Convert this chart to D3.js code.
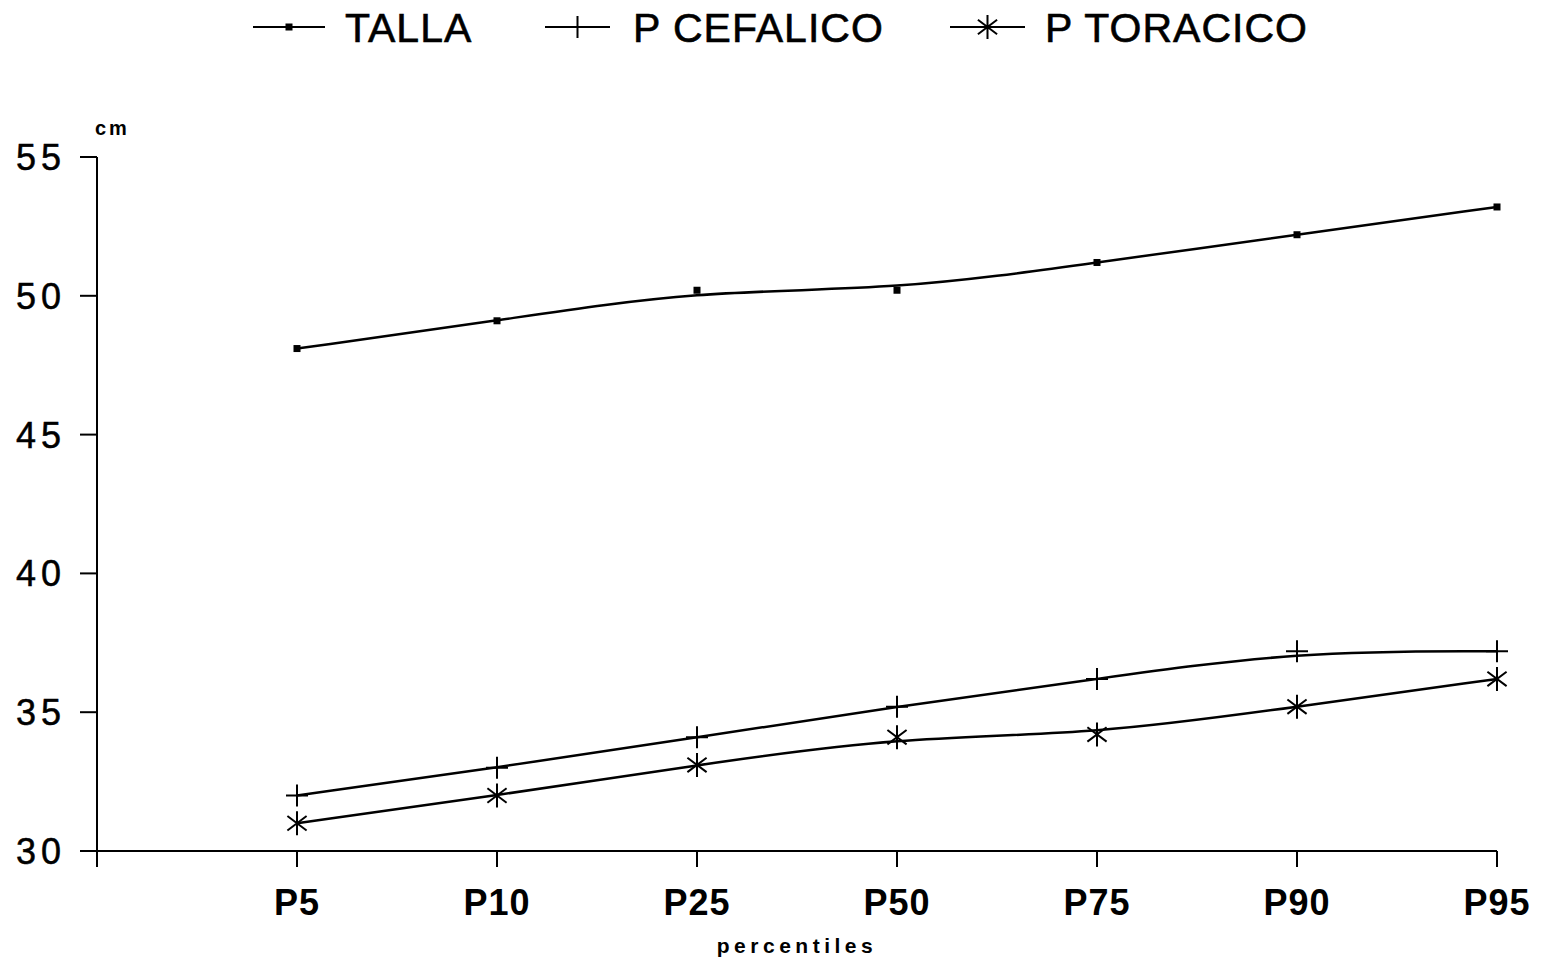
<!DOCTYPE html>
<html>
<head>
<meta charset="utf-8">
<script src="https://cdn.jsdelivr.net/npm/d3@7"></script>
<style>
  body { margin: 0; background: #fff; }
  svg { display: block; font-family: "Liberation Sans", Arial, sans-serif; }
  .tick-y { font-size: 36px; letter-spacing: 5px; stroke: #000; stroke-width: 0.5px; }
  .tick-x { font-size: 36px; font-weight: bold; letter-spacing: 1px; }
  .legend-label { font-size: 41px; letter-spacing: 1px; stroke: #000; stroke-width: 0.6px; }
</style>
</head>
<body>
<script>
// categories (first slot left empty, like the original)
const percentiles = ['', 'P5', 'P10', 'P25', 'P50', 'P75', 'P90', 'P95'];
const talla = [48.1, 49.1, 50.2, 50.2, 51.2, 52.2, 53.2];
const cefalico = [32.0, 33.0, 34.1, 35.2, 36.2, 37.2, 37.2];
const toracico = [31.0, 32.0, 33.1, 34.1, 34.2, 35.2, 36.2];
const yTicks = [30, 35, 40, 45, 50, 55];
const seriesNames = ['TALLA', 'P CEFALICO', 'P TORACICO'];

const width = 1548, height = 963;

const svg = d3.select('body').append('svg')
  .attr('width', width)
  .attr('height', height);

const x = d3.scalePoint()
  .domain(percentiles)
  .range([97, 1497]);

const y = d3.scaleLinear()
  .domain([30, 55])
  .range([851, 157]);

// axes
svg.append('line')
  .attr('x1', 82).attr('x2', x('P95'))
  .attr('y1', y(30)).attr('y2', y(30))
  .attr('stroke', '#000').attr('stroke-width', 2);

svg.append('line')
  .attr('x1', x('')).attr('x2', x(''))
  .attr('y1', y(55)).attr('y2', y(30) + 16)
  .attr('stroke', '#000').attr('stroke-width', 2);

const yAxis = svg.append('g');
yTicks.forEach(t => {
  yAxis.append('line')
    .attr('x1', 80).attr('x2', x(''))
    .attr('y1', y(t)).attr('y2', y(t))
    .attr('stroke', '#000').attr('stroke-width', 2);
  yAxis.append('text')
    .attr('class', 'tick-y')
    .attr('x', 66).attr('y', y(t))
    .attr('dy', '0.36em')
    .attr('text-anchor', 'end')
    .text(t);
});

svg.append('text')
  .attr('x', 95).attr('y', 135)
  .attr('font-size', 20).attr('font-weight', 'bold')
  .attr('letter-spacing', 3)
  .text('cm');

const xAxis = svg.append('g');
percentiles.slice(1).forEach(p => {
  xAxis.append('line')
    .attr('x1', x(p)).attr('x2', x(p))
    .attr('y1', y(30)).attr('y2', y(30) + 16)
    .attr('stroke', '#000').attr('stroke-width', 2);
  xAxis.append('text')
    .attr('class', 'tick-x')
    .attr('x', x(p)).attr('y', 915)
    .attr('text-anchor', 'middle')
    .text(p);
});

svg.append('text')
  .attr('x', 797).attr('y', 953)
  .attr('text-anchor', 'middle')
  .attr('font-size', 21).attr('font-weight', 'bold')
  .attr('letter-spacing', 4.5)
  .text('percentiles');

// markers
const square = (g, cx, cy) => g.append('rect')
  .attr('x', cx - 3.5).attr('y', cy - 3.5).attr('width', 7).attr('height', 7)
  .attr('fill', '#000');

const plus = (g, cx, cy, r = 11) => g.append('path')
  .attr('d', `M${cx - r},${cy}H${cx + r}M${cx},${cy - r}V${cy + r}`)
  .attr('stroke', '#000').attr('stroke-width', 2).attr('fill', 'none');

const star = (g, cx, cy, r = 12) => {
  const dx = r * 0.8, dy = r * 0.6;
  g.append('path')
    .attr('d', `M${cx},${cy - r}V${cy + r}M${cx - dx},${cy - dy}L${cx + dx},${cy + dy}M${cx - dx},${cy + dy}L${cx + dx},${cy - dy}`)
    .attr('stroke', '#000').attr('stroke-width', 2).attr('fill', 'none');
};

const markers = [square, plus, star];
const series = [talla, cefalico, toracico];

const line = d3.line()
  .x((d, i) => x(percentiles[i + 1]))
  .y(d => y(d))
  .curve(d3.curveBasis);

const plot = svg.append('g');
series.forEach((vals, si) => {
  plot.append('path')
    .datum(vals)
    .attr('d', line)
    .attr('fill', 'none')
    .attr('stroke', '#000')
    .attr('stroke-width', 2.5);
  vals.forEach((v, i) => markers[si](plot, x(percentiles[i + 1]), y(v)));
});

// legend
const legendPos = [
  { x1: 253, x2: 325, tx: 345 },
  { x1: 545, x2: 610, tx: 633 },
  { x1: 950, x2: 1025, tx: 1045 }
];
const legend = svg.append('g');
seriesNames.forEach((name, i) => {
  const p = legendPos[i];
  legend.append('line')
    .attr('x1', p.x1).attr('x2', p.x2)
    .attr('y1', 27).attr('y2', 27)
    .attr('stroke', '#000').attr('stroke-width', 2);
  markers[i](legend, (p.x1 + p.x2) / 2, 27);
  legend.append('text')
    .attr('class', 'legend-label')
    .attr('x', p.tx).attr('y', 42)
    .text(name);
});
</script>
</body>
</html>
